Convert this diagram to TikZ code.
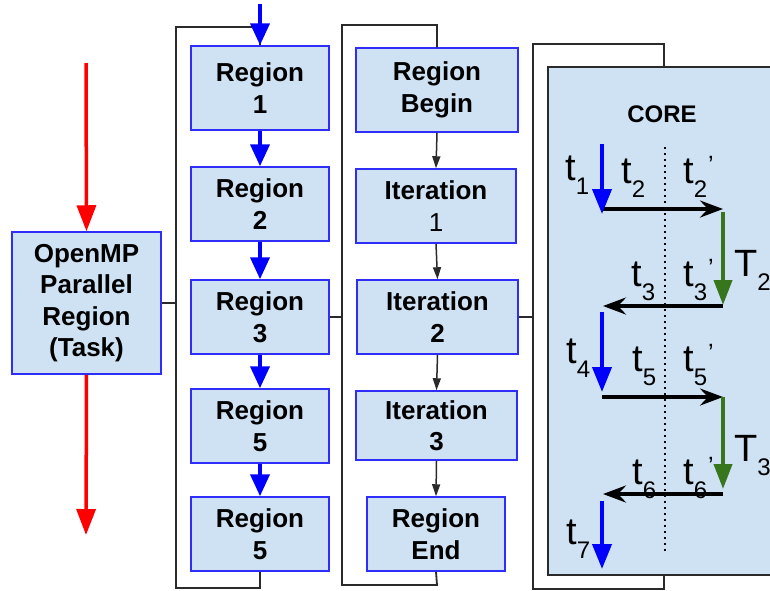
\documentclass[tikz,border=0pt]{standalone}
\usepackage{fontspec}
\setmainfont{Liberation Sans}
\usetikzlibrary{arrows.meta}
\definecolor{boxfill}{HTML}{CFE2F3}
\definecolor{boxline}{HTML}{2E2EF8}
\definecolor{leafgreen}{HTML}{38761D}
\definecolor{wire}{HTML}{2A2A2A}
\definecolor{inkblue}{HTML}{0000FF}
\definecolor{inkred}{HTML}{FF0000}

% time labels: letter with a lowered index, optionally primed
\newcommand\tsub[2]{#1\raisebox{-14pt}{\fontsize{24}{24}\selectfont #2}}
\newcommand\tsubp[2]{#1\raisebox{-14pt}{\fontsize{24}{24}\selectfont #2}\hspace{1pt}\raisebox{10pt}{\fontsize{25}{25}\selectfont ’}}

\begin{document}
\begin{tikzpicture}[x=1pt,y=-1pt,
  box/.style={draw=boxline, fill=boxfill, line width=1.5pt, align=center,
    inner sep=0pt, font=\bfseries\fontsize{26}{31.5}\selectfont},
  corebox/.style={draw=wire, fill=boxfill, line width=1.8pt, inner sep=0pt},
  bracket/.style={draw=wire, line width=1.8pt},
  redflow/.style={draw=inkred, line width=3.5pt, -{Triangle[length=26pt,width=19pt]}},
  blueflow/.style={draw=inkblue, line width=4pt, -{Triangle[length=22pt,width=19pt]}},
  iterflow/.style={draw=wire, line width=1.5pt, -{Triangle[length=12pt,width=8pt]}},
  bluedrop/.style={draw=inkblue, line width=4pt, -{Triangle[length=25pt,width=19pt]}},
  greendrop/.style={draw=leafgreen, line width=4pt, -{Triangle[length=25pt,width=18pt]}},
  hop/.style={draw=black, line width=4pt, -{Stealth[length=23pt,width=17pt,inset=8pt]}},
  lab/.style={anchor=base west, inner sep=0pt, font=\fontsize{38}{38}\selectfont}
]
\useasboundingbox (0,0) rectangle (770,590);

% ---- task box with its red flow
\node[box, minimum width=149pt, minimum height=142pt] (omp) at (86.5,303)
  {OpenMP\\Parallel\\Region\\(Task)};
\coordinate (redtop) at (86,63);
\coordinate (redbot) at (86,535);
\draw[redflow] (redtop) -- (omp.north);
\draw[redflow] (omp.south) -- (redbot);

% ---- chain of regions
\node[box, minimum width=138pt, minimum height=84pt] (r1) at (260,88) {Region\\1};
\node[box, minimum width=138pt, minimum height=74pt] (r2) at (260,204) {Region\\2};
\node[box, minimum width=138pt, minimum height=74pt] (r3) at (260,317) {Region\\3};
\node[box, minimum width=138pt, minimum height=74pt] (r4) at (260,426) {Region\\5};
\node[box, minimum width=138pt, minimum height=74pt] (r5) at (260,534) {Region\\5};

\coordinate (bluein) at (260,4);
\draw[bracket] (r1.north) -- (260,27) -- (176,27) -- (176,588) -- (260,588) -- (r5.south);
\draw[bracket] (omp.east) -- (176,303);
\draw[blueflow] (bluein) -- (r1.north);
\draw[blueflow] (r1.south) -- (r2.north);
\draw[blueflow] (r2.south) -- (r3.north);
\draw[blueflow] (r3.south) -- (r4.north);
\draw[blueflow] (r4.south) -- (r5.north);

% ---- iterations inside one region
\node[box, minimum width=162pt, minimum height=84pt] (rb) at (437,90) {Region\\Begin};
\node[box, minimum width=160pt, minimum height=74pt] (i1) at (436,206) {Iteration\\{\mdseries 1}};
\node[box, minimum width=161pt, minimum height=74pt] (i2) at (437.5,317) {Iteration\\2};
\node[box, minimum width=161pt, minimum height=69pt] (i3) at (436.5,425.5) {Iteration\\3};
\node[box, minimum width=138pt, minimum height=74pt] (re) at (436,534) {Region\\End};

\draw[bracket] (rb.north) -- (437,25) -- (342,25) -- (342,585) -- (437,585) -- (re.south);
\draw[bracket] (r3.east) -- (342,317);
\draw[iterflow] (rb.south) -- (i1.north);
\draw[iterflow] (i1.south) -- (i2.north);
\draw[iterflow] (i2.south) -- (i3.north);
\draw[iterflow] (i3.south) -- (re.north);

% ---- core timeline
\node[corebox, minimum width=260pt, minimum height=508pt, anchor=north west] (core) at (547,66) {};
\coordinate (coretop) at (664,66);
\coordinate (corebot) at (664,574);
\draw[bracket] (coretop) -- (664,44) -- (533,44) -- (533,589) -- (664,589) -- (corebot);
\draw[bracket] (i2.east) -- (533,317);

\node[anchor=base, inner sep=0pt, font=\bfseries\fontsize{24}{24}\selectfont] (corelabel) at (662,122) {CORE};

\coordinate (divtop) at (665,147);
\coordinate (divbot) at (665,555);
\draw[black, line width=1.5pt, dash pattern=on 1.5pt off 4.5pt] (divtop) -- (divbot);

\coordinate (a0) at (602,144);  \coordinate (a1) at (602,214);
\coordinate (b0) at (602,209);  \coordinate (b1) at (723,209);
\coordinate (c0) at (723,212);  \coordinate (c1) at (723,305);
\coordinate (d0) at (723,306);  \coordinate (d1) at (603,306);
\coordinate (e0) at (602,312);  \coordinate (e1) at (602,392);
\coordinate (f0) at (602,397);  \coordinate (f1) at (723,397);
\coordinate (g0) at (723,397);  \coordinate (g1) at (723,489);
\coordinate (h0) at (723,494);  \coordinate (h1) at (603,494);
\coordinate (k0) at (602,501);  \coordinate (k1) at (602,569);

\draw[hop] (b0) -- (b1);
\draw[hop] (d0) -- (d1);
\draw[hop] (f0) -- (f1);
\draw[hop] (h0) -- (h1);
\draw[bluedrop] (a0) -- (a1);
\draw[bluedrop] (e0) -- (e1);
\draw[bluedrop] (k0) -- (k1);
\draw[greendrop] (c0) -- (c1);
\draw[greendrop] (g0) -- (g1);

\node[lab] (lt1) at (565,180) {\tsub{t}{1}};
\node[lab] (lt2) at (621,183) {\tsub{t}{2}};
\node[lab] (lt2p) at (683,183) {\tsubp{t}{2}};
\node[lab] (lT2) at (734,276) {\tsub{T}{2}};
\node[lab] (lt3) at (631,286) {\tsub{t}{3}};
\node[lab] (lt3p) at (683,286) {\tsubp{t}{3}};
\node[lab] (lt4) at (566,363) {\tsub{t}{4}};
\node[lab] (lt5) at (632,371) {\tsub{t}{5}};
\node[lab] (lt5p) at (683,371) {\tsubp{t}{5}};
\node[lab] (lT3) at (734,461) {\tsub{T}{3}};
\node[lab] (lt6) at (632,484) {\tsub{t}{6}};
\node[lab] (lt6p) at (683,484) {\tsubp{t}{6}};
\node[lab] (lt7) at (566,544) {\tsub{t}{7}};
\end{tikzpicture}
\end{document}
